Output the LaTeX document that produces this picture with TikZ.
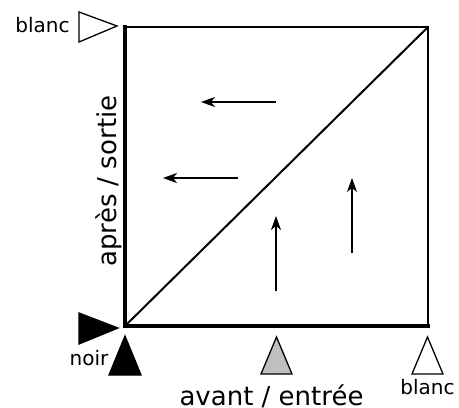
\documentclass[tikz,border=0pt]{standalone}
\usepackage{fontspec}
\setmainfont{DejaVu Sans}
\usetikzlibrary{arrows.meta}
\begin{document}
\begin{tikzpicture}[x=1pt,y=-1pt,
  thinedge/.style={line width=2pt},
  thickedge/.style={line width=4pt},
  flowarrow/.style={line width=1.6pt,-{Stealth[length=14pt,width=10pt,inset=4pt]}},
  marker/.style={draw=black,line width=1.3pt,line join=miter},
  smalllabel/.style={inner sep=0pt,anchor=base,font=\fontsize{20}{24}\selectfont},
  biglabel/.style={inner sep=0pt,anchor=base,font=\fontsize{26}{31}\selectfont}]
\useasboundingbox (0,0) rectangle (459,408);
% square corners
\coordinate (bl) at (125,326);
\coordinate (tl) at (125,27);
\coordinate (tr) at (428,27);
\coordinate (br) at (428,326);
\draw[thinedge,line cap=rect] (tl) -- (tr) -- (br);
\draw[thickedge,line cap=rect,line join=miter] (tl) -- (bl) -- (br);
\draw[line width=2pt] (bl) -- (tr);
% arrows
\coordinate (a1s) at (276,102); \coordinate (a1e) at (201,102);
\coordinate (a2s) at (238,178); \coordinate (a2e) at (163,178);
\coordinate (a3s) at (276,291); \coordinate (a3e) at (276,216);
\coordinate (a4s) at (352,253); \coordinate (a4e) at (352,178);
\draw[flowarrow] (a1s) -- (a1e);
\draw[flowarrow] (a2s) -- (a2e);
\draw[flowarrow] (a3s) -- (a3e);
\draw[flowarrow] (a4s) -- (a4e);
% markers
\draw[marker,fill=white] (79,12) -- (117,26) -- (79,42) -- cycle;
\draw[marker,fill=black] (79,313) -- (118,328) -- (79,344) -- cycle;
\draw[marker,fill=black] (109,375) -- (125,336) -- (141,375) -- cycle;
\draw[marker,fill=black!25] (261,374) -- (276.5,337) -- (292,374) -- cycle;
\draw[marker,fill=white] (412,374) -- (427.5,337) -- (443,374) -- cycle;
% labels
\node[smalllabel] (blanctop) at (42.5,32) {blanc};
\node[smalllabel] (noir) at (89,365) {noir};
\node[smalllabel] (blancbot) at (427.5,394) {blanc};
\node[biglabel] (avant) at (271.5,405) {avant / entrée};
\node[biglabel,rotate=90] (apres) at (116,181) {après / sortie};
\end{tikzpicture}
\end{document}
